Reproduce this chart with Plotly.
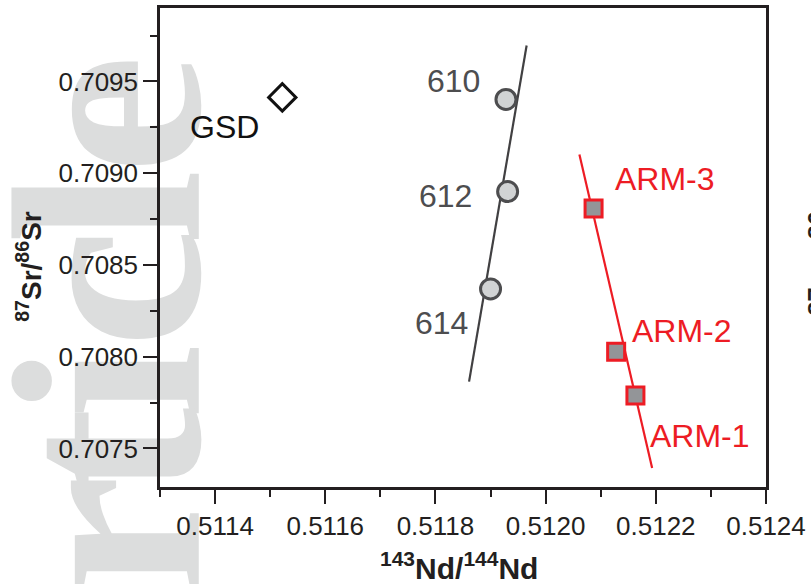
import plotly.graph_objects as go

# Reference material (gray circles) and sample (red squares) Sr–Nd isotope ratios
ref_names = ["610", "612", "614"]
ref_nd = [0.511928, 0.511931, 0.511900]
ref_sr = [0.709402, 0.708900, 0.708369]

arm_names = ["ARM-3", "ARM-2", "ARM-1"]
arm_nd = [0.512087, 0.512128, 0.512163]
arm_sr = [0.708808, 0.708027, 0.707788]

gsd_name = ["GSD"]
gsd_nd = [0.511522]
gsd_sr = [0.709413]

# Trend lines through each group (end points)
ref_line_nd = [0.511861, 0.5119655]
ref_line_sr = [0.707864, 0.709696]
arm_line_nd = [0.5120613, 0.5121933]
arm_line_sr = [0.709102, 0.707393]

# Label offsets (pixels) relative to each point
ref_shift = [(-52, 18), (-62, -4), (-49, -34)]
arm_shift = [(71, 29), (66, 21), (65, -40)]
gsd_shift = [(-58, -30)]

# Background lettering: characters and their vertical centres (pixels from top)
bg_letters = ["e", "l", "c", "i", "t", "r"]
bg_centres = [112, 205, 287, 381, 452, 535]

W, H = 811, 584
L, R, T, B = 160, 43, 5, 97
PW, PH = W - L - R, H - T - B

AX = "#231f20"
DARK = "#4d4d4f"
RED = "#ed1c24"


def px(xp):
    return (xp - L) / PW


def py(yp):
    return (H - B - yp) / PH


fig = go.Figure()

fig.add_trace(go.Scatter(x=ref_line_nd, y=ref_line_sr, mode="lines",
                         line=dict(color="#414042", width=2.2), hoverinfo="skip"))
fig.add_trace(go.Scatter(x=arm_line_nd, y=arm_line_sr, mode="lines",
                         line=dict(color=RED, width=2.2), hoverinfo="skip"))

fig.add_trace(go.Scatter(x=ref_nd, y=ref_sr, mode="markers",
                         marker=dict(symbol="circle", size=20, color="#d1d3d4",
                                     line=dict(color=DARK, width=3))))
fig.add_trace(go.Scatter(x=arm_nd, y=arm_sr, mode="markers",
                         marker=dict(symbol="square", size=17, color="#939598",
                                     line=dict(color=RED, width=3))))
fig.add_trace(go.Scatter(x=gsd_nd, y=gsd_sr, mode="markers",
                         marker=dict(symbol="diamond", size=21, color="white",
                                     line=dict(color="#111111", width=3))))

annotations = []
label_font = "Liberation Sans, Arial, Helvetica, sans-serif"
for names, xs, ys, shifts, col in [
    (ref_names, ref_nd, ref_sr, ref_shift, DARK),
    (arm_names, arm_nd, arm_sr, arm_shift, RED),
    (gsd_name, gsd_nd, gsd_sr, gsd_shift, "#111111"),
]:
    for n, xv, yv, (dx, dy) in zip(names, xs, ys, shifts):
        annotations.append(dict(x=xv, y=yv, xref="x", yref="y", text=n,
                                showarrow=False, xshift=dx, yshift=dy,
                                font=dict(family=label_font, size=32, color=col)))

# Background lettering on the left margin, kept beneath the axes
shapes = []
for ch, yc in zip(bg_letters, bg_centres):
    shapes.append(dict(type="rect", xref="paper", yref="paper",
                       x0=px(0), x1=px(156), y0=py(yc + 10), y1=py(yc - 10),
                       line=dict(width=0), fillcolor="rgba(0,0,0,0)", layer="below",
                       label=dict(text="<b>%s</b>" % ch, textangle=-90,
                                  textposition="middle center",
                                  font=dict(family="Liberation Serif, DejaVu Serif, serif",
                                            size=270, color="#dcdddd"))))

# Axis titles
title_font = "Liberation Sans Narrow, Liberation Sans, Arial, sans-serif"
annotations.append(dict(x=px(29), y=py(265), xref="paper", yref="paper",
                        text="<b><sup>87</sup>Sr/<sup>86</sup>Sr</b>", textangle=-90,
                        showarrow=False, xanchor="center", yanchor="middle",
                        font=dict(family=title_font, size=28, color=AX)))
annotations.append(dict(x=px(460), y=py(566), xref="paper", yref="paper",
                        text="<b><sup>143</sup>Nd/<sup>144</sup>Nd</b>",
                        showarrow=False, xanchor="center", yanchor="middle",
                        font=dict(family=title_font, size=30, color=AX)))
# Edge of the neighbouring panel's axis title
annotations.append(dict(x=px(803), y=py(243), xref="paper", yref="paper",
                        text="<b><sup>87</sup>Sr/<sup>86</sup>Sr</b>", textangle=-90,
                        showarrow=False, xanchor="left", yanchor="middle",
                        font=dict(family=title_font, size=36, color=AX)))

axis_common = dict(
    showline=True, linecolor=AX, linewidth=2.5, mirror=True,
    ticks="outside", ticklen=14, tickwidth=2, tickcolor=AX,
    showgrid=False, zeroline=False,
    tickfont=dict(family="Liberation Sans, Arial, Helvetica, sans-serif", size=26, color=AX),
    tickformat=".4f",
)

fig.update_xaxes(range=[0.5113, 0.5124], dtick=0.0002, tick0=0.5114,
                 minor=dict(ticks="outside", ticklen=7, tickwidth=2, tickcolor=AX,
                            dtick=0.0001, tick0=0.5113, showgrid=False),
                 **axis_common)
fig.update_yaxes(range=[0.70729, 0.70990], dtick=0.0005, tick0=0.7075,
                 minor=dict(ticks="outside", ticklen=7, tickwidth=2, tickcolor=AX,
                            dtick=0.00025, tick0=0.7075, showgrid=False),
                 **axis_common)

fig.update_layout(
    width=W, height=H,
    margin=dict(l=L, r=R, t=T, b=B),
    paper_bgcolor="white", plot_bgcolor="rgba(0,0,0,0)",
    showlegend=False,
    annotations=annotations,
    shapes=shapes,
)

fig.write_html("out.html")
